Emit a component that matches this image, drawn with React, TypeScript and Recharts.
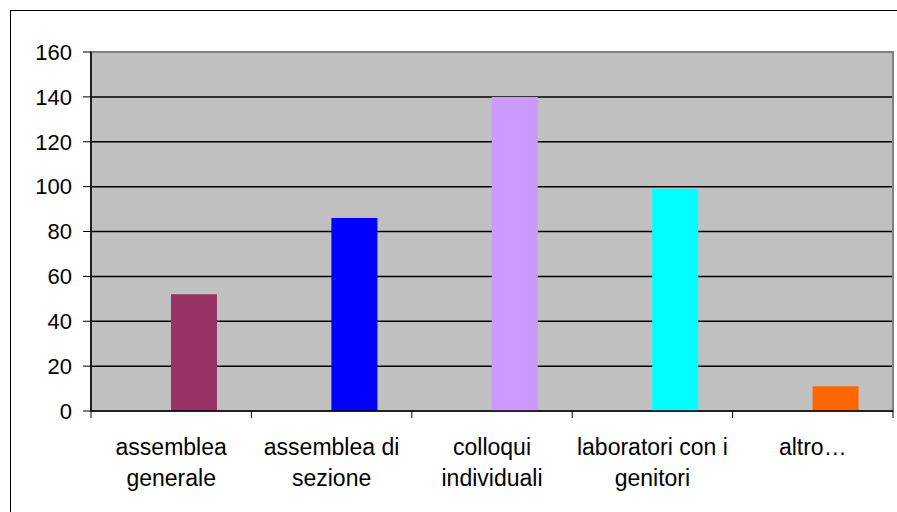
import { BarChart, Bar, XAxis, YAxis, CartesianGrid, Cell, ReferenceArea } from 'recharts';

const categories = ['assemblea generale', 'assemblea di sezione', 'colloqui individuali', 'laboratori con i genitori', 'altro…'];
const values = [52, 86, 140, 99, 11];
const barColors = ['#993366', '#0000FF', '#CC99FF', '#00FFFF', '#FF6600'];
const yTicks = [0, 20, 40, 60, 80, 100, 120, 140, 160];

const data = categories.map((name, i) => ({ name, empty: null, value: values[i] }));

const FONT = 'Liberation Sans, Arial, sans-serif';

function wrap(text: string, maxChars: number): string[] {
  const lines: string[] = [];
  let cur = '';
  for (const w of text.split(' ')) {
    const next = cur ? `${cur} ${w}` : w;
    if (next.length > maxChars && cur) {
      lines.push(cur);
      cur = w;
    } else cur = next;
  }
  if (cur) lines.push(cur);
  return lines;
}

const CategoryTick = (props: any) => {
  const { x, payload, index } = props;
  const axisY = 411;
  const half = payload?.offset || 80.2;
  const lines = wrap(String(payload.value), 16);
  return (
    <g>
      <line x1={x - half} x2={x - half} y1={axisY} y2={axisY + 7} stroke="#000" />
      {index === categories.length - 1 && (
        <line x1={x + half} x2={x + half} y1={axisY} y2={axisY + 7} stroke="#000" />
      )}
      <text x={x} y={axisY + 44} textAnchor="middle" fontSize={23} fontFamily={FONT} fill="#000">
        {lines.map((l, i) => (
          <tspan key={i} x={x} dy={i === 0 ? 0 : 31}>{l}</tspan>
        ))}
      </text>
    </g>
  );
};

export default function App() {
  return (
    <div style={{ position: 'fixed', left: 0, top: 0, width: 897, height: 512, overflow: 'hidden', background: '#fff' }}>
      <div style={{ position: 'absolute', left: 10, top: 10, width: 920, height: 540, border: '1.5px solid #000' }} />
      <div style={{ position: 'absolute', left: 0, top: 0 }}>
        <BarChart width={897} height={512} data={data} margin={{ top: 52, right: 4, bottom: 0, left: 0 }} barSize={46} barGap={0}>
          <CartesianGrid vertical={false} fill="#C0C0C0" fillOpacity={1} stroke="#000" strokeWidth={1.5} horizontalValues={yTicks.slice(0, -1)} />
          <ReferenceArea y1={0} y2={160} fill="none" stroke="#808080" strokeWidth={2} ifOverflow="visible" />
          <XAxis dataKey="name" height={101} axisLine={{ stroke: '#000', strokeWidth: 1.5 }} tickLine={false} interval={0} tick={<CategoryTick />} />
          <YAxis domain={[0, 160]} ticks={yTicks} width={91} axisLine={{ stroke: '#000', strokeWidth: 1.5 }} tickLine={{ stroke: '#000' }} tickSize={8} tickMargin={11} tick={{ fill: '#000', fontSize: 22, fontFamily: FONT }} interval={0} />
          <Bar dataKey="empty" isAnimationActive={false} />
          <Bar dataKey="value" isAnimationActive={false}>
            {values.map((_, i) => <Cell key={i} fill={barColors[i]} />)}
          </Bar>
        </BarChart>
      </div>
    </div>
  );
}
